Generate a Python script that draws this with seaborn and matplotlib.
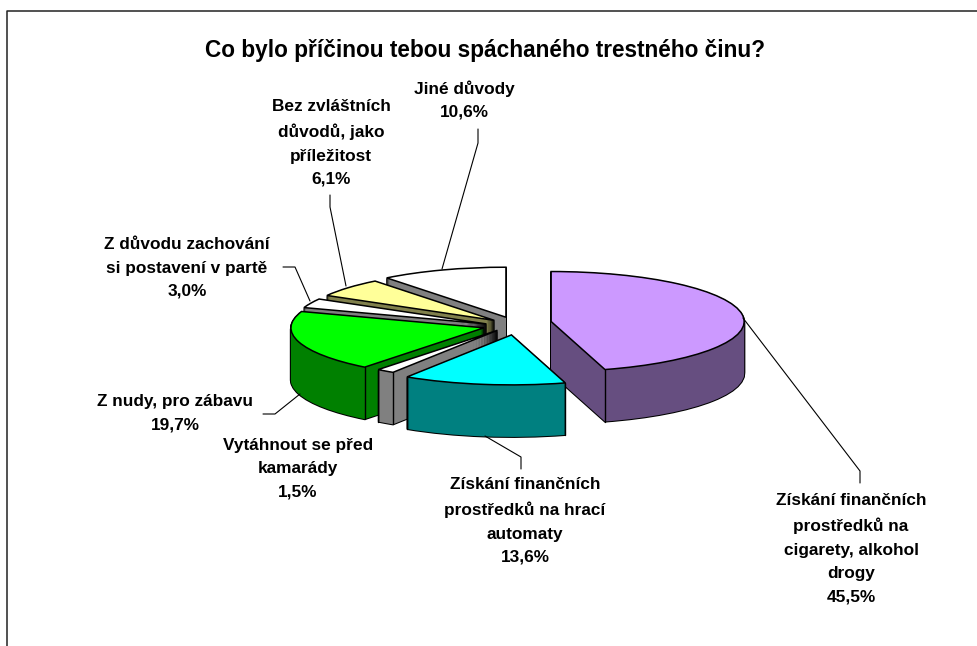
import matplotlib
matplotlib.use('Agg')
import matplotlib.pyplot as plt
import numpy as np
import seaborn as sns

# slices, clockwise from 12 o'clock
values = [45.5, 13.6, 1.5, 19.7, 3.0, 6.1, 10.6]
labels = ['Získání finančních\nprostředků na\ncigarety, alkohol\ndrogy\n45,5%',
          'Získání finančních\nprostředků na hrací\nautomaty\n13,6%',
          'Vytáhnout se před\nkamarády\n1,5%',
          'Z nudy, pro zábavu\n19,7%',
          'Z důvodu zachování\nsi postavení v partě\n3,0%',
          'Bez zvláštních\ndůvodů, jako\npříležitost\n6,1%',
          'Jiné důvody\n10,6%']
title = 'Co bylo příčinou tebou spáchaného trestného činu?'

top_colors = ['#CC99FF', '#00FFFF', '#FFFFFF', '#00FF00', '#FFFFFF', '#FFFF99', '#FFFFFF']
wall_colors = ['#664E80', '#008080', '#808080', '#008000', '#808080', '#80804C', '#808080']
explode = [0.21, 0.2, 0.13, 0.13, 0.1, 0.08, 0.08]
draw_order = [0, 6, 5, 4, 3, 2, 1]  # back to front

# layout in pixels
W, H = 978, 646
cx, cy = 511, 323
rx, ry = 193, 50
depth = 52
nudge = [(0, 0), (6, 2), (1, 2), (-3, 3), (-7, 3), (-5, 0), (0, -2)]
label_pos = [(851, 549), (525, 521), (298, 469), (175, 413), (187, 268), (331, 143), (464, 100)]
leaders = [[(743, 318), (860, 471), (860, 483)],
           [(485, 436), (521, 457), (521, 469)],
           [(263, 414), (275, 414), (300, 394)],
           [(283, 267), (295, 267), (310, 301)],
           [(330, 195), (330, 207), (346, 286)],
           [(478, 129), (478, 143), (442, 269)]]

sns.set_theme(style='white')
plt.rcParams['font.family'] = ['Liberation Sans', 'DejaVu Sans']

fig = plt.figure(figsize=(W / 100, H / 100), dpi=100, facecolor='white')
ax = fig.add_axes([0, 0, 1, 1])


def draw_pie(colors, offset, lw, level):
    wedges, _ = ax.pie(values, colors=colors, explode=explode, startangle=90,
                       counterclock=False, center=(0, -offset / ry),
                       wedgeprops={'edgecolor': 'black' if lw else 'none', 'linewidth': lw})
    for i, w in enumerate(wedges):
        w.set_zorder(draw_order.index(i) * 10 + level)
        w.set_center((w.center[0] + nudge[i][0] / rx, w.center[1] - nudge[i][1] / ry))
    return wedges


# side walls: black silhouette first, then the fill over it
for d in range(depth, 0, -1):
    draw_pie(wall_colors, d, 1.5, 1)
for d in range(depth, 0, -1):
    draw_pie(wall_colors, d, 0, 2)
tops = draw_pie(top_colors, 0, 1.1, 4)

# vertical edges at the front corners of the walls
for i, w in enumerate(tops):
    for theta in (w.theta1, w.theta2):
        a = np.deg2rad(theta)
        if np.sin(a) < -0.1:
            x = w.center[0] + np.cos(a)
            y = w.center[1] + np.sin(a)
            ax.plot([x, x], [y, y - depth / ry], color='black', lw=1.0,
                    zorder=draw_order.index(i) * 10 + 3)

ax.set_aspect('auto')
ax.set_xlim(-cx / rx, (W - cx) / rx)
ax.set_ylim((cy - H) / ry, cy / ry)
ax.axis('off')

# overlay in pixel coordinates for frame, leaders and text
ov = fig.add_axes([0, 0, 1, 1], facecolor='none')
ov.set_xlim(0, W)
ov.set_ylim(H, 0)
ov.axis('off')
ov.plot([7, 7, W], [H, 11, 11], color='#222222', lw=1.1, clip_on=False)
for pts in leaders:
    ov.plot([p[0] for p in pts], [p[1] for p in pts], color='black', lw=0.8)
for lab, (x, y) in zip(labels, label_pos):
    ov.text(x, y, lab, ha='center', va='center', fontsize=12.4, fontweight='bold',
            color='black', linespacing=1.7, multialignment='center')
ov.text(485, 51, title, ha='center', va='center', fontsize=16.3, fontweight='bold', color='black')

fig.savefig('out.png', dpi=100)
